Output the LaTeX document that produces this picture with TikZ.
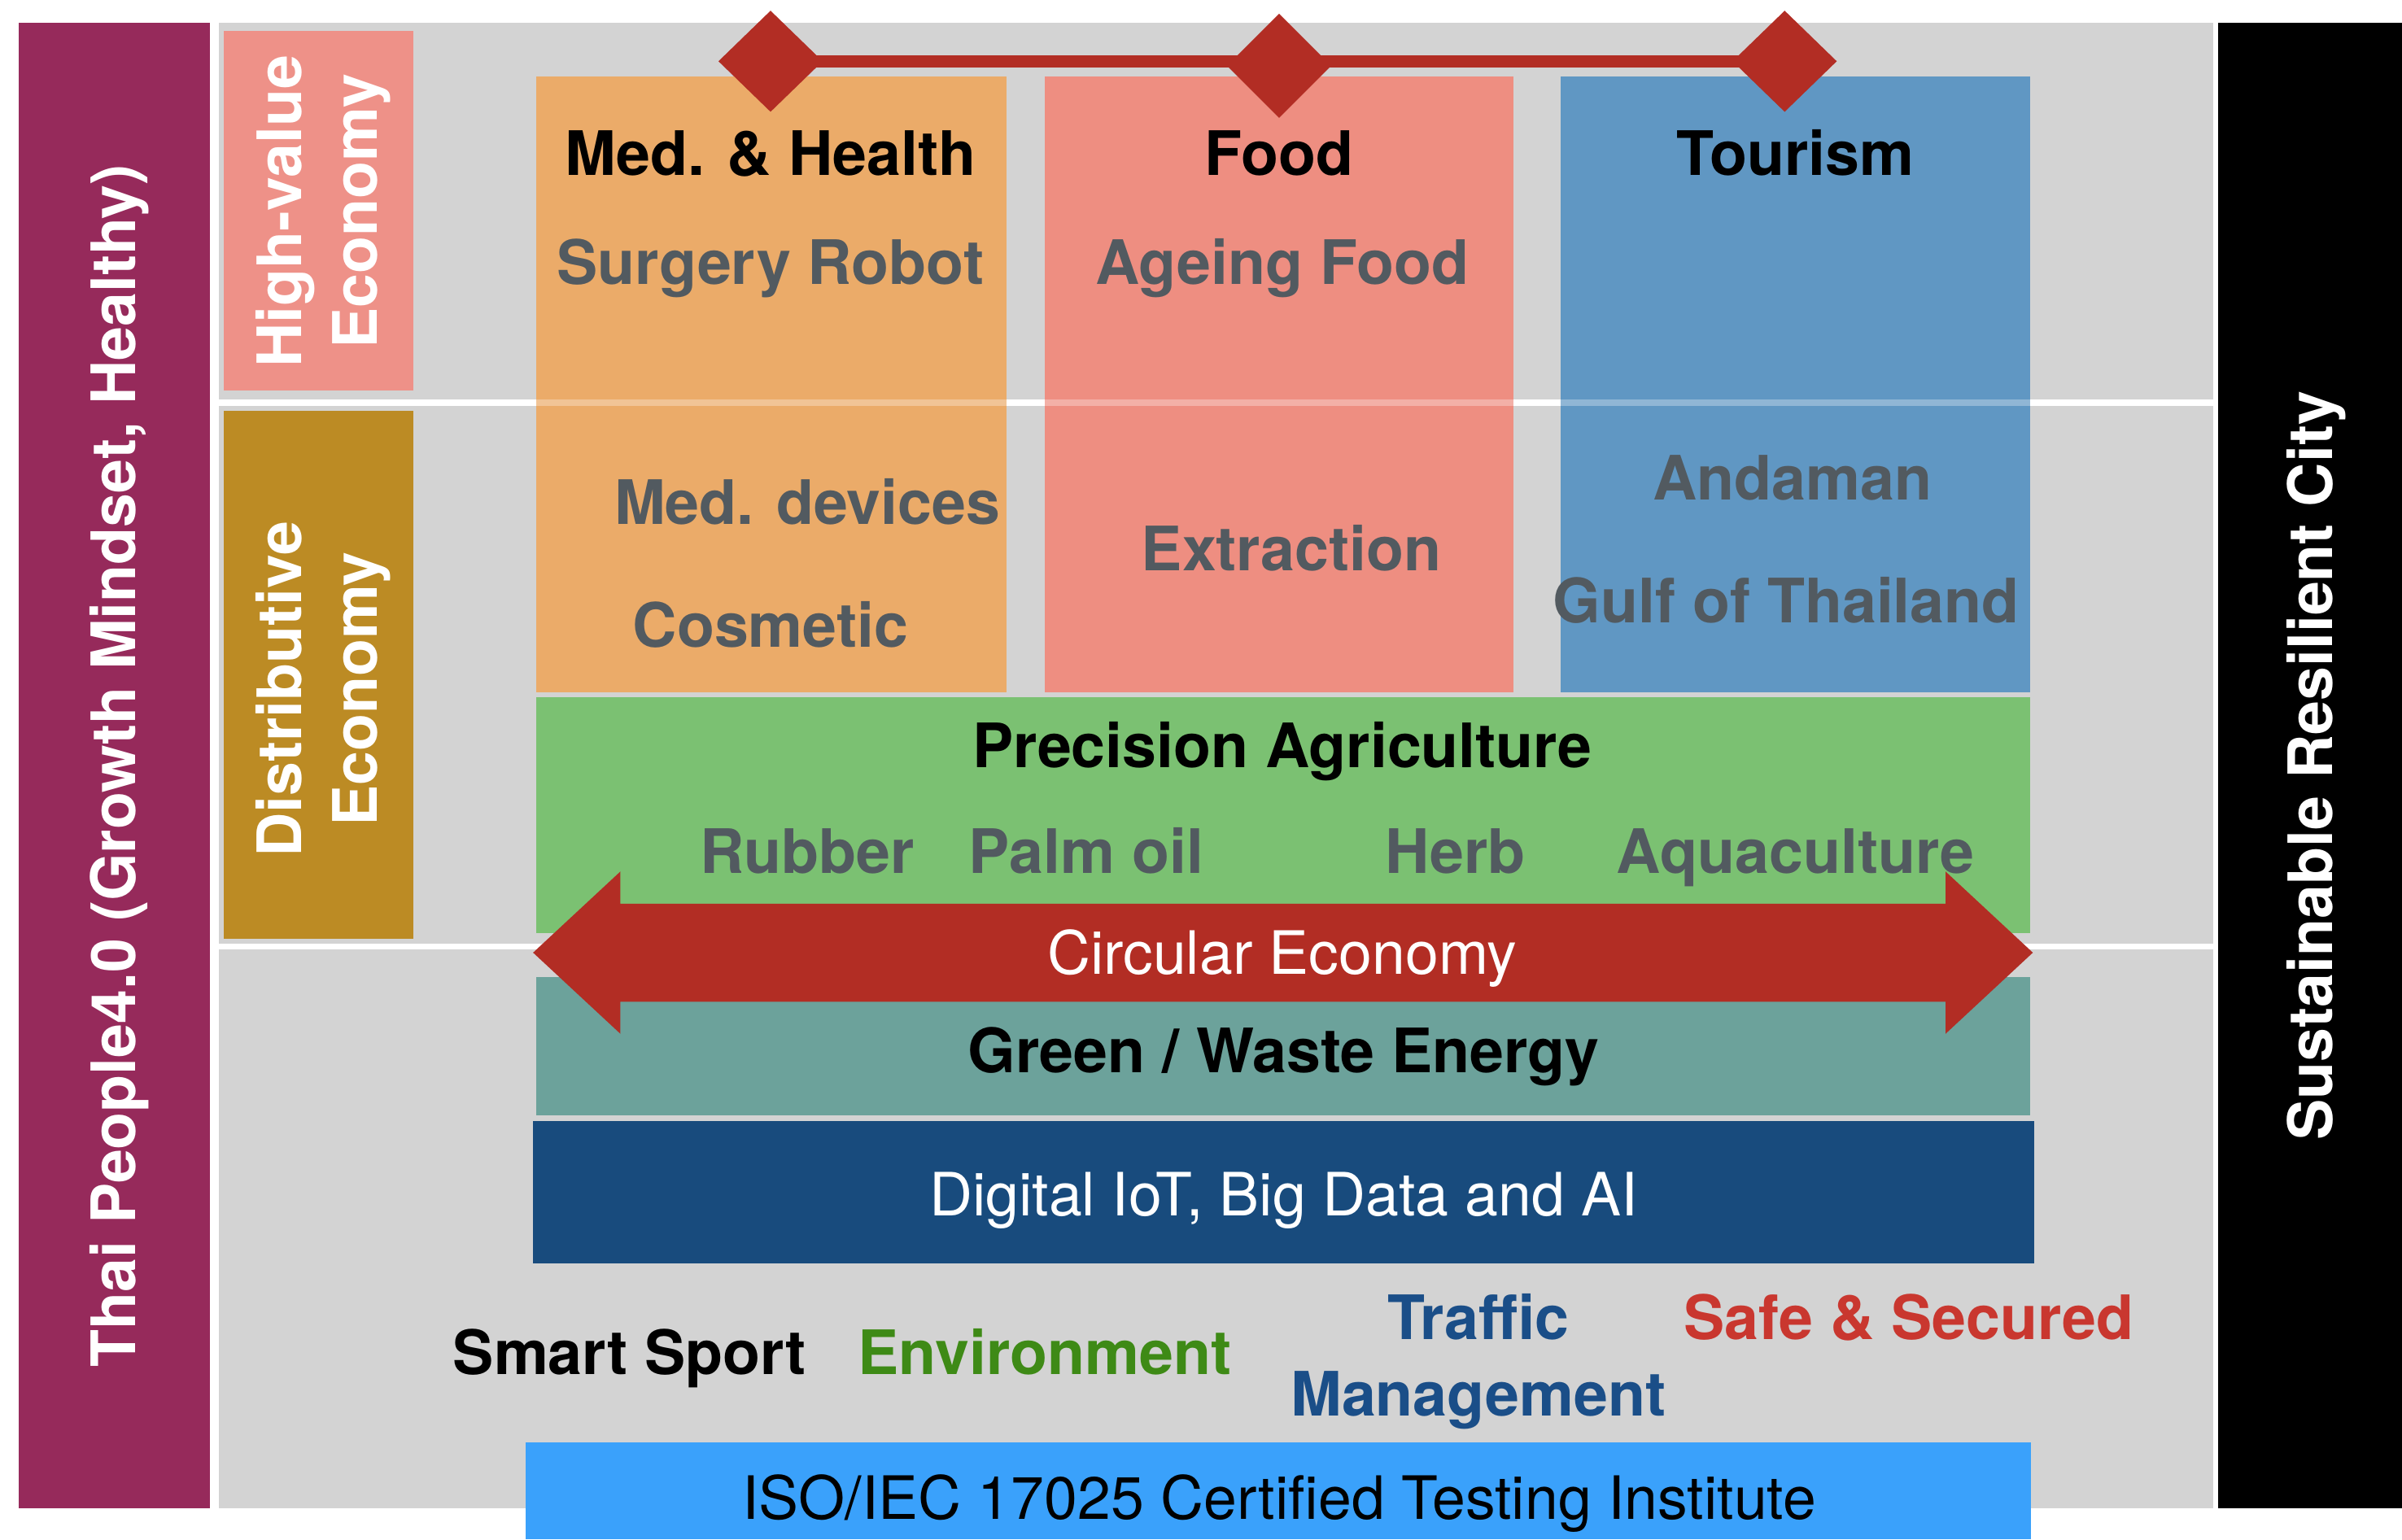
\documentclass[tikz,border=0pt]{standalone}
\usepackage{fontspec}
\setmainfont{TeX Gyre Heros}
\usetikzlibrary{shapes.geometric,fit}
\definecolor{bggray}{HTML}{D3D3D3}
\definecolor{plum}{HTML}{962A5B}
\definecolor{hvsalmon}{HTML}{EE9188}
\definecolor{gold}{HTML}{BC8B24}
\definecolor{medorange}{HTML}{EBAB69}
\definecolor{foodsalmon}{HTML}{EE8E81}
\definecolor{tourblue}{HTML}{6097C3}
\definecolor{agrigreen}{HTML}{7BC172}
\definecolor{teal}{HTML}{6CA29B}
\definecolor{navy}{HTML}{184B7D}
\definecolor{isoblue}{HTML}{3AA1FB}
\definecolor{arrowred}{HTML}{B22D24}
\definecolor{subgray}{HTML}{525A60}
\definecolor{envgreen}{HTML}{3E8A16}
\definecolor{trafblue}{HTML}{1A4E88}
\definecolor{safered}{HTML}{C9372F}
\begin{document}
\begin{tikzpicture}[x=0.5pt,y=-0.5pt,
  box/.style={inner sep=0pt, outer sep=0pt, draw=none},
  lbl/.style={inner sep=0pt, text height=14.4pt, text depth=0pt,
    font=\fontsize{20}{24}\selectfont\bfseries},
  reg/.style={inner sep=0pt, text height=14pt, text depth=0pt,
    font=\fontsize{19.5}{24}\selectfont},
  sub/.style={lbl, text=subgray},
  vtext/.style={inner sep=0pt, rotate=90, align=center, text=white,
    font=\fontsize{20}{24.5}\selectfont\bfseries},
  gem/.style={diamond, fill=arrowred, inner sep=0pt, outer sep=0pt,
    minimum width=34pt, minimum height=33pt}
]
\fill[white] (0,0) rectangle (1568,1005);
\useasboundingbox (0,0) rectangle (1568,1005);

% background panels
\node[box, fill=bggray, fit={(143,15) (1445,985)}] (bg) {};
\draw[white, line width=2pt] (143,263) -- (1445,263);
\draw[white, line width=2pt] (143,618) -- (1445,618);

\node[box, fill=plum, fit={(12,15) (137,985)}] (people) {};
\node[box, fill=black, fit={(1448,15) (1568,985)}] (city) {};
\node[box, fill=hvsalmon, fit={(146,20) (270,255)}] (hv) {};
\node[box, fill=gold, fit={(146,268) (270,613)}] (dist) {};

% sector columns
\node[box, fill=medorange, fit={(350,50) (657,452)}] (med) {};
\node[box, fill=foodsalmon, fit={(682,50) (988,452)}] (food) {};
\node[box, fill=tourblue, fit={(1019,50) (1325,452)}] (tour) {};
\draw[white, opacity=0.3, line width=2pt] (350,263) -- (657,263);
\draw[white, opacity=0.3, line width=2pt] (682,263) -- (988,263);
\draw[white, opacity=0.3, line width=2pt] (1019,263) -- (1325,263);

% bands
\node[box, fill=agrigreen, fit={(350,455) (1325,609)}] (agri) {};
\node[box, fill=teal, fit={(350,638) (1325,728)}] (energy) {};
\node[box, fill=navy, fit={(348,732) (1328,825)}] (digital) {};
\node[box, fill=isoblue, fit={(343,942) (1326,1005)}] (iso) {};

% circular economy double arrow
\fill[arrowred] (348,622) -- (405,569) -- (405,590) -- (1270,590) -- (1270,569)
  -- (1327,622) -- (1270,675) -- (1270,654) -- (405,654) -- (405,675) -- cycle;

% diamonds and connecting bar
\node[gem] (d1) at (503,40) {};
\node[gem, minimum height=34pt] (d2) at (835,43) {};
\node[gem] (d3) at (1165,40) {};
\draw[arrowred, line width=4pt] (d1.center) -- (d3.center);

% vertical labels
\node[vtext] (peopletxt) at (78,500) {Thai People4.0 (Growth Mindset, Healthy)};
\node[vtext] (citytxt) at (1512,500) {Sustainable Resilient City};
\node[vtext] (hvtxt) at (211,138) {High-value\\Economy};
\node[vtext] (disttxt) at (211,450) {Distributive\\Economy};

% column texts
\node[lbl] (medt) at (503,100) {Med. \& Health};
\node[lbl] (foodt) at (835,100) {Food};
\node[lbl] (tourt) at (1172,100) {Tourism};
\node[sub] (surg) at (503,171) {Surgery Robot};
\node[sub] (ageing) at (837,171) {Ageing Food};
\node[sub] (devices) at (527,328) {Med. devices};
\node[sub] (cosm) at (503,408) {Cosmetic};
\node[sub] (extr) at (843,358) {Extraction};
\node[sub] (anda) at (1170,312) {Andaman};
\node[sub] (gulf) at (1166,392) {Gulf of Thailand};

% bands texts
\node[lbl] (agrit) at (837,487) {Precision Agriculture};
\node[sub] (rub) at (527,556) {Rubber};
\node[sub] (palm) at (709,556) {Palm oil};
\node[sub] (herb) at (950,556) {Herb};
\node[sub] (aqua) at (1172,556) {Aquaculture};
\node[reg, text=white] (circ) at (837,622) {Circular Economy};
\node[lbl] (energyt) at (838,686) {Green / Waste Energy};
\node[reg, text=white] (digt) at (838,780) {Digital IoT, Big Data and AI};

% bottom items
\node[lbl] (sport) at (411,883) {Smart Sport};
\node[lbl, text=envgreen] (env) at (682,883) {Environment};
\node[lbl, text=trafblue] (traf1) at (965,860) {Traffic};
\node[lbl, text=trafblue] (traf2) at (965,910) {Management};
\node[lbl, text=safered] (safe) at (1246,860) {Safe \& Secured};
\node[reg] (isot) at (835,978) {ISO/IEC 17025 Certified Testing Institute};
\end{tikzpicture}
\end{document}
